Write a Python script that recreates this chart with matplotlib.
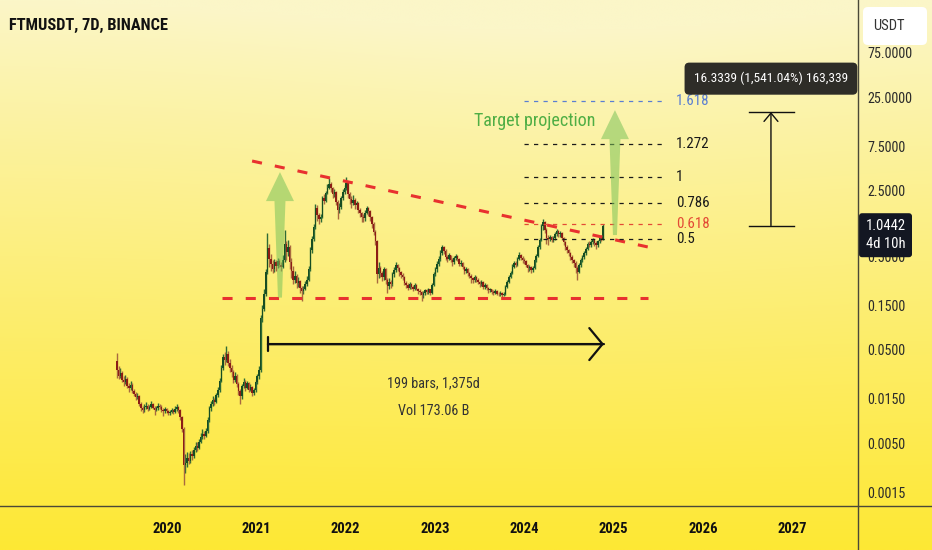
import numpy as np
import pandas as pd
import matplotlib
matplotlib.use("Agg")
import matplotlib.pyplot as plt
import matplotlib.dates as mdates
from matplotlib import font_manager
from matplotlib.patches import Polygon, FancyBboxPatch
from matplotlib.ticker import NullLocator

names = {f.name for f in font_manager.fontManager.ttflist}
base_font = 'Roboto'
for cand in ['Liberation Sans Narrow', 'Roboto Condensed', 'Open Sans Condensed']:
    if cand in names:
        base_font = cand
        break
plt.rcParams['font.family'] = [base_font, 'DejaVu Sans']

# weekly candles, FTMUSDT 7D
first_week = '2019-06-10'
first_open = 0.0380
closes = [
    0.0300, 0.0262, 0.0281, 0.0238, 0.0226, 0.0244, 0.0205, 0.0193, 0.0210, 0.0181,
    0.0168, 0.0154, 0.0160, 0.0132, 0.0118, 0.0112, 0.0121, 0.0126, 0.0117, 0.0123,
    0.0131, 0.0120, 0.0114, 0.0118, 0.0126, 0.0122, 0.0113, 0.0109, 0.0116, 0.0111,
    0.0104, 0.0108, 0.0113, 0.0107, 0.0116, 0.0121, 0.0112, 0.0094, 0.0071, 0.0029,
    0.0031, 0.0035, 0.0032, 0.0038, 0.0036, 0.0042, 0.0047, 0.0044, 0.0052, 0.0058,
    0.0063, 0.0060, 0.0067, 0.0089, 0.0118, 0.0131, 0.0145, 0.0138, 0.0162, 0.0185,
    0.0232, 0.0318, 0.0412, 0.0385, 0.0452, 0.0362, 0.0318, 0.0285, 0.0238, 0.0262,
    0.0215, 0.0179, 0.0158, 0.0203, 0.0228, 0.0195, 0.0218, 0.0187, 0.0199, 0.0172,
    0.0185, 0.0226, 0.0258, 0.0302, 0.1100, 0.1350, 0.1950, 0.3350, 0.6100, 0.4700,
    0.4100, 0.3650, 0.4300, 0.3900, 0.4400, 0.4050, 0.3800, 0.4500, 0.6800, 0.5500,
    0.6200, 0.4300, 0.3500, 0.2800, 0.3100, 0.2550, 0.2700, 0.2300, 0.2100, 0.2250,
    0.2500, 0.2800, 0.3600, 0.5800, 0.7600, 1.0200, 1.6500, 1.3800, 1.2500, 1.3000,
    2.1000, 1.9500, 2.3500, 2.7000, 2.9500, 2.6500, 2.3000, 2.4500, 1.9000, 1.5500,
    1.6800, 2.1000, 2.4000, 2.6500, 3.0500, 2.3000, 2.0500, 1.8500, 2.0000, 1.7500,
    1.8500, 1.5500, 1.4300, 1.3000, 1.2700, 1.4500, 1.6300, 1.5200, 1.3000, 1.1000,
    0.9000, 0.7200, 0.3200, 0.3700, 0.3300, 0.3000, 0.3600, 0.2800, 0.2400, 0.2650,
    0.2500, 0.3200, 0.3550, 0.4000, 0.3700, 0.3350, 0.3150, 0.3000, 0.2600, 0.2450,
    0.2300, 0.2500, 0.2350, 0.2200, 0.2450, 0.2250, 0.2100, 0.2050, 0.1900, 0.2000,
    0.2150, 0.2050, 0.2200, 0.2000, 0.2450, 0.3200, 0.3600, 0.4100, 0.4700, 0.5400,
    0.6200, 0.5700, 0.4900, 0.4700, 0.5100, 0.4600, 0.4300, 0.4800, 0.5000, 0.4700,
    0.4100, 0.4200, 0.3800, 0.3500, 0.3600, 0.3300, 0.3100, 0.2900, 0.2750, 0.3000,
    0.2800, 0.2650, 0.2500, 0.2650, 0.2350, 0.2450, 0.2300, 0.2150, 0.2200, 0.2050,
    0.2000, 0.2100, 0.1980, 0.1950, 0.2000, 0.1920, 0.1950, 0.2350, 0.2650, 0.3000,
    0.3300, 0.3850, 0.4200, 0.4000, 0.4700, 0.5200, 0.4800, 0.4500, 0.4400, 0.4000,
    0.3700, 0.3800, 0.3550, 0.3700, 0.4500, 0.5000, 0.6200, 0.7400, 1.0500, 1.1500,
    0.9500, 0.7800, 0.7600, 0.8000, 0.7400, 0.7800, 0.8600, 0.9200, 0.8600, 0.8800,
    0.7800, 0.7000, 0.6200, 0.5800, 0.5400, 0.4900, 0.4500, 0.4200, 0.3700, 0.3400,
    0.4000, 0.4500, 0.4900, 0.5400, 0.6000, 0.6800, 0.6500, 0.7000, 0.7400, 0.6900,
    0.6500, 0.7200, 0.8000, 0.7600, 1.0442,
]
highs = [
    0.0460, 0.0335, 0.0318, 0.0292, 0.0262, 0.0270, 0.0252, 0.0221, 0.0232, 0.0218,
    0.0190, 0.0175, 0.0172, 0.0163, 0.0138, 0.0124, 0.0130, 0.0138, 0.0131, 0.0129,
    0.0140, 0.0134, 0.0125, 0.0124, 0.0133, 0.0130, 0.0127, 0.0118, 0.0121, 0.0119,
    0.0114, 0.0113, 0.0119, 0.0116, 0.0124, 0.0131, 0.0125, 0.0115, 0.0097, 0.0074,
    0.0038, 0.0040, 0.0039, 0.0041, 0.0042, 0.0046, 0.0052, 0.0051, 0.0056, 0.0064,
    0.0070, 0.0068, 0.0072, 0.0095, 0.0126, 0.0142, 0.0158, 0.0152, 0.0171, 0.0198,
    0.0248, 0.0340, 0.0450, 0.0470, 0.0540, 0.0480, 0.0395, 0.0340, 0.0300, 0.0285,
    0.0272, 0.0225, 0.0188, 0.0215, 0.0250, 0.0236, 0.0232, 0.0225, 0.0212, 0.0205,
    0.0196, 0.0238, 0.0275, 0.0330, 0.1180, 0.1500, 0.2200, 0.3600, 0.8800, 0.6800,
    0.5300, 0.4600, 0.4700, 0.4500, 0.4800, 0.4700, 0.4300, 0.5200, 0.9500, 0.7200,
    0.7500, 0.6500, 0.4800, 0.3900, 0.3500, 0.3200, 0.3000, 0.2800, 0.2400, 0.2400,
    0.2700, 0.3100, 0.3900, 0.6200, 0.8200, 1.0900, 1.8000, 1.7500, 1.4500, 1.4200,
    2.2000, 2.3000, 2.5000, 2.9500, 3.4600, 3.1000, 2.7500, 2.6000, 2.5000, 2.0000,
    1.8500, 2.2000, 2.6000, 2.8500, 3.4700, 3.2000, 2.4500, 2.2000, 2.2500, 2.1000,
    1.9500, 1.9000, 1.6500, 1.5000, 1.4000, 1.5500, 1.7000, 1.6800, 1.5500, 1.3500,
    1.1500, 0.9500, 0.7500, 0.4300, 0.3900, 0.3500, 0.3800, 0.3700, 0.2900, 0.2900,
    0.2800, 0.3400, 0.3800, 0.4300, 0.4150, 0.3800, 0.3500, 0.3300, 0.3050, 0.2700,
    0.2550, 0.2650, 0.2600, 0.2450, 0.2550, 0.2500, 0.2300, 0.2200, 0.2100, 0.2100,
    0.2250, 0.2250, 0.2300, 0.2250, 0.2550, 0.3350, 0.3800, 0.4400, 0.5000, 0.5800,
    0.6500, 0.6400, 0.5900, 0.5100, 0.5400, 0.5200, 0.4800, 0.5000, 0.5300, 0.5200,
    0.4800, 0.4500, 0.4300, 0.3900, 0.3800, 0.3700, 0.3400, 0.3200, 0.3000, 0.3150,
    0.3100, 0.2900, 0.2700, 0.2750, 0.2700, 0.2550, 0.2500, 0.2350, 0.2300, 0.2250,
    0.2150, 0.2200, 0.2150, 0.2050, 0.2100, 0.2050, 0.2050, 0.2450, 0.2800, 0.3150,
    0.3500, 0.4100, 0.4450, 0.4400, 0.4900, 0.5600, 0.5300, 0.5000, 0.4800, 0.4500,
    0.4100, 0.4000, 0.3900, 0.3900, 0.4700, 0.5300, 0.6500, 0.7800, 1.1000, 1.2500,
    1.2000, 1.0000, 0.8500, 0.8500, 0.8200, 0.8200, 0.9000, 0.9800, 0.9400, 0.9200,
    0.9000, 0.8000, 0.7200, 0.6500, 0.6000, 0.5600, 0.5100, 0.4700, 0.4400, 0.3900,
    0.4200, 0.4800, 0.5200, 0.5700, 0.6300, 0.7100, 0.7200, 0.7400, 0.7800, 0.7600,
    0.7200, 0.7500, 0.8300, 0.8400, 1.0900,
]
lows = [
    0.0250, 0.0240, 0.0248, 0.0225, 0.0205, 0.0215, 0.0192, 0.0178, 0.0185, 0.0172,
    0.0158, 0.0146, 0.0148, 0.0125, 0.0110, 0.0104, 0.0108, 0.0116, 0.0111, 0.0112,
    0.0119, 0.0115, 0.0101, 0.0109, 0.0114, 0.0116, 0.0108, 0.0098, 0.0104, 0.0105,
    0.0099, 0.0100, 0.0104, 0.0102, 0.0105, 0.0111, 0.0106, 0.0088, 0.0065, 0.0018,
    0.0024, 0.0028, 0.0030, 0.0031, 0.0033, 0.0035, 0.0040, 0.0041, 0.0043, 0.0050,
    0.0055, 0.0056, 0.0058, 0.0064, 0.0085, 0.0110, 0.0125, 0.0129, 0.0134, 0.0155,
    0.0178, 0.0225, 0.0300, 0.0340, 0.0370, 0.0330, 0.0290, 0.0255, 0.0222, 0.0225,
    0.0200, 0.0165, 0.0132, 0.0150, 0.0195, 0.0182, 0.0188, 0.0176, 0.0180, 0.0160,
    0.0165, 0.0178, 0.0215, 0.0245, 0.0290, 0.0980, 0.1280, 0.1850, 0.3200, 0.3800,
    0.3500, 0.3300, 0.3400, 0.3500, 0.3700, 0.3800, 0.3500, 0.3700, 0.4300, 0.4600,
    0.5000, 0.3600, 0.2900, 0.2500, 0.2550, 0.2300, 0.2350, 0.2000, 0.1650, 0.1950,
    0.2150, 0.2400, 0.2700, 0.3500, 0.5400, 0.7200, 0.9800, 1.2000, 1.1000, 1.1500,
    1.2800, 1.8000, 1.9000, 2.3000, 2.6000, 2.4500, 2.1000, 2.1500, 1.7500, 1.2500,
    1.4500, 1.6000, 2.0000, 2.3000, 2.5500, 2.1000, 1.8000, 1.6500, 1.7500, 1.6000,
    1.6000, 1.4500, 1.3000, 1.1500, 1.1500, 1.2000, 1.4000, 1.3500, 1.2000, 1.0000,
    0.8500, 0.6500, 0.2600, 0.2900, 0.3000, 0.2700, 0.2800, 0.2500, 0.2000, 0.2250,
    0.2300, 0.2400, 0.3000, 0.3400, 0.3500, 0.3100, 0.2900, 0.2800, 0.2450, 0.2300,
    0.2150, 0.2200, 0.2250, 0.2100, 0.2150, 0.2150, 0.1950, 0.1900, 0.1650, 0.1800,
    0.1900, 0.1950, 0.1950, 0.1900, 0.1950, 0.2400, 0.3100, 0.3400, 0.3900, 0.4400,
    0.5100, 0.5300, 0.4500, 0.4300, 0.4500, 0.4300, 0.3900, 0.4100, 0.4600, 0.4400,
    0.3900, 0.3900, 0.3600, 0.3200, 0.3300, 0.3100, 0.2900, 0.2600, 0.2550, 0.2650,
    0.2650, 0.2500, 0.2350, 0.2400, 0.2250, 0.2250, 0.2150, 0.2000, 0.2050, 0.1950,
    0.1900, 0.1950, 0.1900, 0.1850, 0.1880, 0.1800, 0.1850, 0.1900, 0.2300, 0.2600,
    0.2900, 0.3200, 0.3700, 0.3800, 0.3900, 0.4600, 0.4500, 0.4200, 0.4100, 0.3800,
    0.3400, 0.3500, 0.3300, 0.3400, 0.3600, 0.4300, 0.4900, 0.6000, 0.7200, 0.9500,
    0.8800, 0.6800, 0.6500, 0.7200, 0.7000, 0.7100, 0.7500, 0.8200, 0.8000, 0.8000,
    0.7400, 0.6600, 0.5800, 0.5400, 0.5000, 0.4500, 0.4200, 0.3800, 0.3300, 0.2800,
    0.3300, 0.3800, 0.4300, 0.4700, 0.5200, 0.5800, 0.6200, 0.6300, 0.6700, 0.6400,
    0.6000, 0.6200, 0.6900, 0.7200, 0.7400,
]

years = [2020, 2021, 2022, 2023, 2024, 2025, 2026, 2027]
price_ticks = [0.0015, 0.005, 0.015, 0.05, 0.15, 0.5, 2.5, 7.5, 25, 75]

# drawings (date, price)
resist_line = (['2020-12-14', '2025-05-21'], [5.2, 0.626])
support_line = (['2020-08-13', '2025-05-21'], [0.18, 0.18])
fib_levels = [0.5, 0.618, 0.786, 1, 1.272, 1.618]
fib_low, fib_high = 0.17, 3.49
fib_span = ['2023-12-31', '2025-08-03']
fib_colors = {0.618: '#e34a36', 1.618: '#5a7ed2'}
range_dates = ['2021-02-17', '2024-11-22']
range_price = 0.0573
measure_date = '2026-10-06'
measure_span = ['2026-07-08', '2027-01-08']
measure_from, measure_change = 1.05993, 16.3339
green_arrows = [('2021-04-07', 0.18, 3.96), ('2025-01-06', 0.84, 18.2)]

W, H = 932, 550
fig = plt.figure(figsize=(W / 100, H / 100), dpi=100)

# background gradient
bg = fig.add_axes([0, 0, 1, 1], zorder=0)
rows = np.linspace(0, 1, 200)[:, None] ** 0.9
cols = np.linspace(0, 1, 300)[None, :]
top = np.array([251, 246, 200]) / 255
bot = np.array([254, 232, 52]) / 255
t = np.clip(rows - 0.08 * np.exp(-((cols - 0.6) / 0.35) ** 2) * (1 - rows), 0, 1)
grad = top[None, None, :] * (1 - t[..., None]) + bot[None, None, :] * t[..., None]
bg.imshow(grad, aspect='auto', extent=[0, 1, 0, 1])
bg.axis('off')

ax = fig.add_axes([0, 44 / H, 858 / W, 506 / H], zorder=1)
ax.patch.set_alpha(0)
ax.set_yscale('log')
ax.set_ylim(0.001063, 274.2)
ax.set_xlim(mdates.date2num(pd.Timestamp('2018-02-17')), mdates.date2num(pd.Timestamp('2027-09-27')))
for s in ax.spines.values():
    s.set_visible(False)

dates = pd.date_range(first_week, periods=len(closes), freq='7D')
xd = mdates.date2num(dates)
c = np.array(closes)
o = np.r_[first_open, c[:-1]]
hi = np.maximum(np.array(highs), np.maximum(o, c))
lo = np.minimum(np.array(lows), np.minimum(o, c))
up = c >= o
ax.vlines(xd[up], lo[up], hi[up], color='#2f6b35', lw=1.0, zorder=3)
ax.vlines(xd[~up], lo[~up], hi[~up], color='#a8693f', lw=1.0, zorder=3)
b_lo = np.minimum(o, c)
b_hi = np.maximum(o, c)
ax.bar(xd, b_hi - b_lo, bottom=b_lo, width=6,
       color=np.where(up, '#174d22', '#8c1d15'), linewidth=0, zorder=4)

# trend lines
for d, p in (resist_line, support_line):
    ax.plot(mdates.date2num(pd.to_datetime(d)), p, color='#e8312f', lw=2.2,
            ls=(0, (3.3, 4.3)), zorder=5)

# fib extension
fx = mdates.date2num(pd.to_datetime(fib_span))
for lvl in fib_levels:
    price = fib_low * (fib_high / fib_low) ** lvl
    col = fib_colors.get(lvl, '#1a1a1a')
    ax.plot(fx, [price, price], color=col, lw=0.9, ls=(0, (3.4, 4.2)), zorder=5)
    ax.annotate(f'{lvl:g}', (fx[1], price), xytext=(7, 0), textcoords='offset points',
                va='center', ha='left', fontsize=10.8, color=col)

# date range arrow
rx = mdates.date2num(pd.to_datetime(range_dates))
ax.annotate('', xy=(rx[1], range_price), xytext=(rx[0], range_price),
            arrowprops=dict(arrowstyle='->,head_length=0.95,head_width=1.15',
                            lw=1.6, color='#111111', shrinkA=0, shrinkB=0))
ax.annotate('', xy=(rx[1], range_price), xytext=(rx[0], range_price),
            arrowprops=dict(arrowstyle=']-,widthA=0.5,lengthA=0',
                            lw=1.6, color='#111111', shrinkA=0, shrinkB=0))
mid = (rx[0] + rx[1]) / 2
ax.annotate('199 bars, 1,375d', (mid, range_price), xytext=(-2, -28), textcoords='offset points',
            ha='center', va='center', fontsize=10.3, color='#333333')
ax.annotate('Vol 173.06 B', (mid, range_price), xytext=(-2, -48.5), textcoords='offset points',
            ha='center', va='center', fontsize=10.3, color='#333333')

# price range measure
mx = mdates.date2num(pd.Timestamp(measure_date))
msx = mdates.date2num(pd.to_datetime(measure_span))
m_top = measure_from + measure_change
for p in (measure_from, m_top):
    ax.plot(msx, [p, p], color='#111111', lw=1.0)
ax.annotate('', xy=(mx, m_top), xytext=(mx, measure_from),
            arrowprops=dict(arrowstyle='->,head_length=0.6,head_width=0.5',
                            lw=1.0, color='#111111', shrinkA=0, shrinkB=0))
pct = measure_change / measure_from * 100
ax.annotate(f'{measure_change:.4f} ({pct:,.2f}%) {measure_change * 1e4:,.0f}', (mx, m_top),
            xytext=(0, 24), textcoords='offset points', ha='center', va='center',
            fontsize=9.6, color='white',
            bbox=dict(boxstyle='round,pad=0.7,rounding_size=0.35', fc='#1c1c1c', ec='none', alpha=0.92))

ax.annotate('Target projection', (mdates.date2num(pd.Timestamp('2024-02-14')), 13.95),
            ha='center', va='center', fontsize=13, color='#4fae45')

# axes ticks
ax.set_xticks(mdates.date2num(pd.to_datetime([f'{y}-01-01' for y in years])))
ax.set_xticklabels([str(y) for y in years], fontweight='bold', fontsize=10.5, color='#111111')
ax.tick_params(axis='x', length=0, pad=11.5)
ax.yaxis.tick_right()
ax.set_yticks(price_ticks)
ax.set_yticklabels([f'{v:.4f}' for v in price_ticks])
ax.yaxis.set_minor_locator(NullLocator())
ax.tick_params(axis='y', length=0, pad=7, labelsize=10.2, labelcolor='#2b2b2b')

# overlay in pixels for chrome
ov = fig.add_axes([0, 0, 1, 1], zorder=5)
ov.set_xlim(0, W)
ov.set_ylim(H, 0)
ov.axis('off')
ov.patch.set_alpha(0)
ov.plot([858, 858], [0, H], color='#4a4838', lw=1)
ov.plot([0, W], [506, 506], color='#4a4838', lw=1)

for d, p_base, p_tip in green_arrows:
    dx = mdates.date2num(pd.Timestamp(d))
    xb, yb = ax.transData.transform((dx, p_base))
    xt, yt = ax.transData.transform((dx, p_tip))
    yb, yt = H - yb, H - yt
    yh = yt + 29
    pts = [(xb - 2, yb), (xt - 5.5, yh), (xt - 14, yh), (xt, yt),
           (xt + 14, yh), (xt + 5.5, yh), (xb + 2, yb)]
    ov.add_patch(Polygon(pts, closed=True, fc='#7cc35a', ec='none', alpha=0.55))

ov.add_patch(FancyBboxPatch((863, 7), 64, 38, boxstyle='round,pad=0,rounding_size=5',
                            fc='white', ec='none'))
ov.text(889, 26, 'USDT', ha='center', va='center', fontsize=10.5, color='#333333')

ly = H - ax.transData.transform((xd[-1], closes[-1]))[1]
ov.add_patch(FancyBboxPatch((859, ly - 13), 53, 44, boxstyle='round,pad=0,rounding_size=3',
                            fc='#131722', ec='none'))
ov.text(886, ly, f'{closes[-1]:.4f}', ha='center', va='center', fontsize=10.5, color='white')
ov.text(886, ly + 18, '4d 10h', ha='center', va='center', fontsize=10.5, color='white')

fig.text(9 / W, 1 - 25 / H, 'FTMUSDT, 7D, BINANCE', ha='left', va='center',
         fontsize=11.8, fontweight='bold', color='#111111')

fig.savefig('out.png', dpi=100)
